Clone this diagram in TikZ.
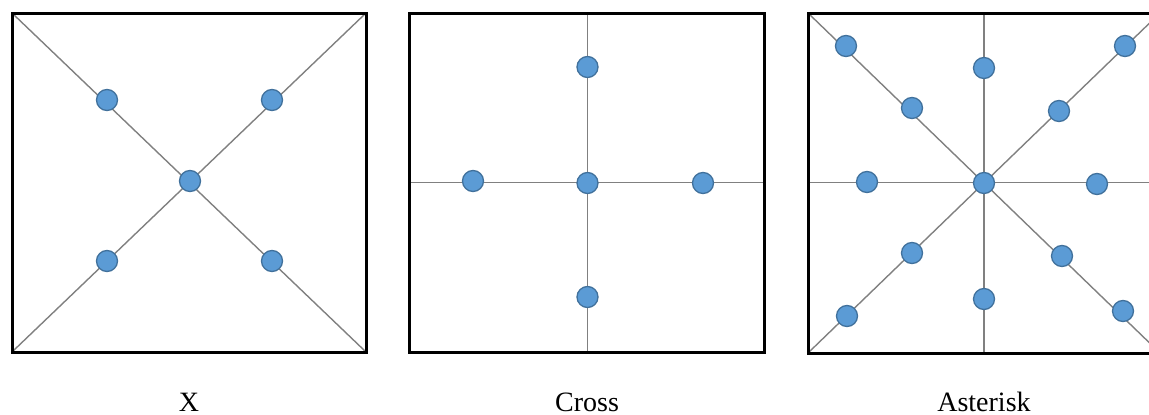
\documentclass[tikz,border=0pt]{standalone}
\usepackage{fontspec}
\setmainfont{Liberation Serif}
\definecolor{dotfill}{RGB}{91,155,213}
\definecolor{dotedge}{RGB}{65,113,156}
\definecolor{linegray}{RGB}{128,128,128}
\tikzset{
  frame/.style={draw=black, line width=3pt},
  guide/.style={draw=linegray, line width=1.4pt},
  dot/.style={circle, fill=dotfill, draw=dotedge, line width=1.3pt, minimum size=21pt, inner sep=0pt},
  caption/.style={anchor=base, inner sep=0pt, text depth=0pt, font=\fontsize{28}{32}\selectfont}
}
\begin{document}
\begin{tikzpicture}[x=1pt,y=-1pt]
\useasboundingbox (0,0) rectangle (1149,415);
\clip (0,0) rectangle (1149,415);
% ---------- X ----------
\coordinate (a1) at (12,13);
\coordinate (a2) at (366,13);
\coordinate (a3) at (366,352);
\coordinate (a4) at (12,352);
\draw[guide] (a1) -- (a3);
\draw[guide] (a2) -- (a4);
\draw[frame] (a1) rectangle (a3);
\node[dot] (x0) at (190,181) {};
\node[dot] (x1) at (107,100) {};
\node[dot] (x2) at (272,100) {};
\node[dot] (x3) at (107,261) {};
\node[dot] (x4) at (272,261) {};
\node[caption] (lx) at (189,411) {X};
% ---------- Cross ----------
\coordinate (b1) at (409,13);
\coordinate (b3) at (764,352);
\coordinate (bt) at (587.5,13);
\coordinate (bb) at (587.5,352);
\coordinate (bl) at (409,182.5);
\coordinate (br) at (764,182.5);
\draw[guide] (bt) -- (bb);
\draw[guide] (bl) -- (br);
\draw[frame] (b1) rectangle (b3);
\node[dot] (c1) at (587.5,67) {};
\node[dot] (c2) at (473,181) {};
\node[dot] (c0) at (587.5,183) {};
\node[dot] (c3) at (703,183) {};
\node[dot] (c4) at (587.5,297) {};
\node[caption] (lc) at (587,411) {Cross};
% ---------- Asterisk ----------
\coordinate (d1) at (808,13);
\coordinate (d2) at (1160,13);
\coordinate (d3) at (1160,353);
\coordinate (d4) at (808,353);
\coordinate (dt) at (984,13);
\coordinate (db) at (984,353);
\coordinate (dl) at (808,182.5);
\coordinate (dr) at (1160,182.5);
\draw[guide] (d1) -- (d3);
\draw[guide] (d2) -- (d4);
\draw[guide] (dt) -- (db);
\draw[guide] (dl) -- (dr);
\draw[frame] (d1) rectangle (d3);
\node[dot] (s1) at (846,46) {};
\node[dot] (s2) at (1125,46) {};
\node[dot] (s3) at (984,68) {};
\node[dot] (s4) at (912,108) {};
\node[dot] (s5) at (1059,111) {};
\node[dot] (s6) at (867,182) {};
\node[dot] (s0) at (984,183) {};
\node[dot] (s7) at (1097,184) {};
\node[dot] (s8) at (912,253) {};
\node[dot] (s9) at (1062,256) {};
\node[dot] (s10) at (984,299) {};
\node[dot] (s11) at (847,316) {};
\node[dot] (s12) at (1123,311) {};
\node[caption] (la) at (984,411) {Asterisk};
\end{tikzpicture}
\end{document}
